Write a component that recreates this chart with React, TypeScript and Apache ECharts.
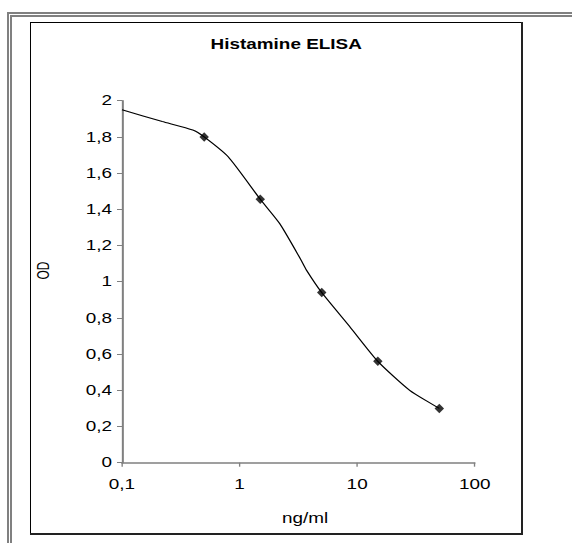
import React, { useEffect, useRef } from "react";
import * as echarts from "echarts";

// ---- data ----
const pointConc = [0.5, 1.5, 5, 15, 50];
const pointOD = [1.8, 1.455, 0.94, 0.56, 0.3];

const curveConc = [0.1, 0.22, 0.4, 0.5, 0.8, 1.5, 2.2, 3.3, 3.7, 5, 8.7, 15, 28, 50];
const curveOD = [1.95, 1.885, 1.838, 1.8, 1.69, 1.455, 1.32, 1.125, 1.065, 0.94, 0.75, 0.56, 0.4, 0.3];

const titleText = "Histamine ELISA";
const xAxisName = "ng/ml";
const yAxisName = "OD";

const FONT = "'Liberation Sans', Arial, sans-serif";
const SX = 1.35; // horizontal stretch of the original picture
const PAGE_W = 572;
const PAGE_H = 543;
const W = PAGE_W / SX;
const sx = (v: number) => v / SX;

const fmt = (v: number) =>
  String(parseFloat(Number(v).toPrecision(6))).replace(".", ",");

export default function App() {
  const ref = useRef<HTMLDivElement>(null);

  useEffect(() => {
    if (!ref.current) return;
    const chart = echarts.init(ref.current, null, { renderer: "svg" });
    const gray = "#808080";
    const rect = (x: number, y: number, w: number, h: number, fill: string) => ({
      type: "rect",
      silent: true,
      shape: { x: sx(x), y, width: sx(w), height: h },
      style: { fill },
    });
    chart.setOption({
      animation: false,
      backgroundColor: "#ffffff",
      title: {
        text: titleText,
        left: "center",
        top: 37,
        padding: [0, 0, 0, 8],
        textStyle: { fontFamily: FONT, fontSize: 14, fontWeight: "bold", color: "#000" },
      },
      graphic: [
        // outer double gray frame
        rect(7, 12, 565, 2, gray),
        rect(10, 15, 562, 2, gray),
        rect(7, 12, 2, 531, gray),
        rect(10, 15, 2, 528, gray),
        // inner chart frame
        rect(30, 22, 493, 1, "#000"),
        rect(30, 22, 1, 513, "#000"),
        rect(521, 22, 2, 513, "#222"),
        rect(30, 533, 493, 2, "#222"),
        {
          type: "text",
          x: sx(43),
          y: 270.5,
          rotation: Math.PI / 2,
          silent: true,
          style: {
            text: yAxisName,
            fontFamily: FONT,
            fontSize: 12,
            fill: "#000",
            align: "center",
            verticalAlign: "middle",
          },
        },
      ],
      grid: {
        left: sx(122),
        right: W - sx(474.3),
        top: 100.7,
        bottom: PAGE_H - 462.7,
        outerBoundsMode: "none",
      },
      xAxis: {
        type: "log",
        logBase: 10,
        min: 0.1,
        max: 100,
        name: xAxisName,
        nameLocation: "middle",
        nameGap: 49,
        nameTextStyle: { fontFamily: FONT, fontSize: 14, color: "#000", padding: [0, 0, 0, 10] },
        axisLine: { show: true, lineStyle: { color: gray, width: 1.5 } },
        axisTick: { show: true, length: 4, lineStyle: { color: gray, width: 1 } },
        axisLabel: { fontFamily: FONT, fontSize: 14, color: "#000", margin: 15, formatter: fmt },
        splitLine: { show: false },
        minorTick: { show: false },
      },
      yAxis: {
        type: "value",
        min: 0,
        max: 2,
        interval: 0.2,
        axisLine: { show: true, onZero: false, lineStyle: { color: gray, width: 1.5 } },
        axisTick: { show: true, length: sx(5), lineStyle: { color: gray, width: 1 } },
        axisLabel: { fontFamily: FONT, fontSize: 14, color: "#000", margin: sx(10), formatter: fmt },
        splitLine: { show: false },
      },
      series: [
        {
          type: "line",
          data: curveConc.map((c, i) => [c, curveOD[i]]),
          showSymbol: false,
          symbol: "none",
          smooth: 0.2,
          lineStyle: { color: "#000", width: 1 },
          silent: true,
          z: 2,
        },
        {
          type: "scatter",
          data: pointConc.map((c, i) => [c, pointOD[i]]),
          symbol: "diamond",
          symbolSize: [7, 9.5],
          itemStyle: { color: "#000" },
          z: 3,
        },
      ],
    });
    return () => chart.dispose();
  }, []);

  return (
    <div
      style={{
        position: "absolute",
        left: 0,
        top: 0,
        width: PAGE_W,
        height: PAGE_H,
        overflow: "hidden",
        background: "#fff",
      }}
    >
      <div
        ref={ref}
        style={{
          width: W,
          height: PAGE_H,
          transform: `scaleX(${SX})`,
          transformOrigin: "0 0",
        }}
      />
    </div>
  );
}
